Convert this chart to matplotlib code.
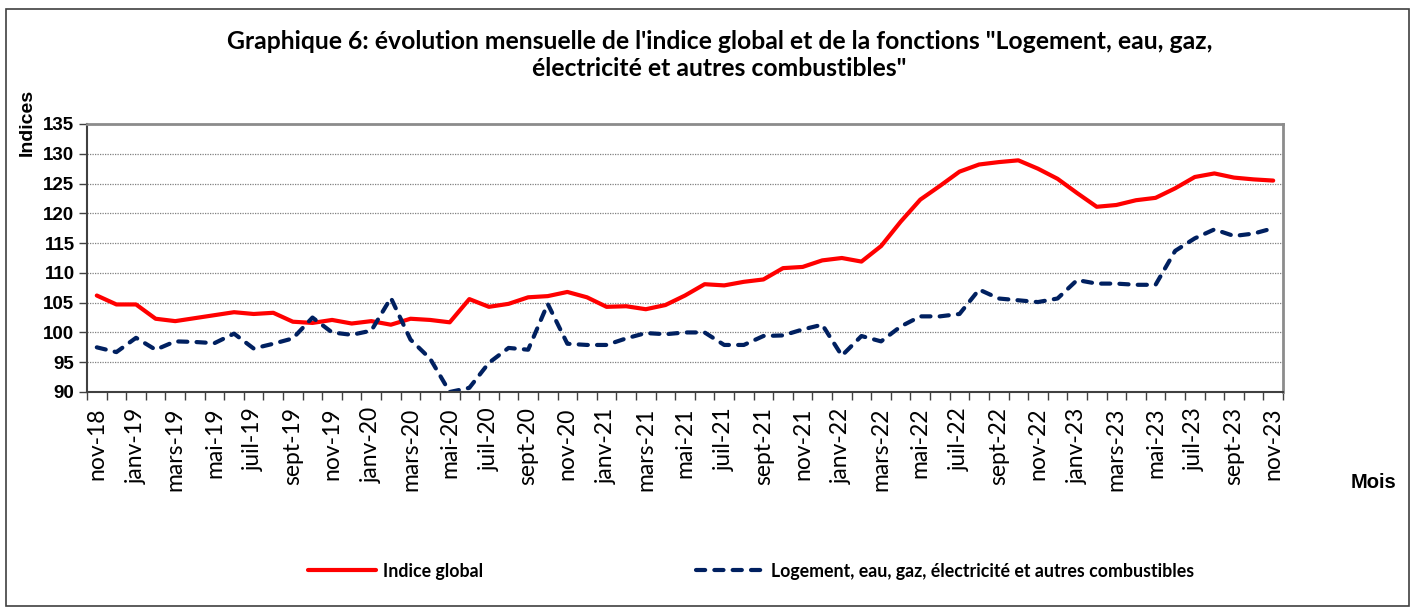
import matplotlib.pyplot as plt
from matplotlib.ticker import FixedLocator, MultipleLocator
import numpy as np

# monthly values nov-18 .. nov-23
indice_global = [
    106.2, 104.7, 104.7, 102.3, 101.9, 102.4, 102.9, 103.4, 103.1, 103.3,
    101.8, 101.6, 102.1, 101.5, 101.9, 101.3, 102.3, 102.1, 101.7, 105.6,
    104.3, 104.8, 105.9, 106.1, 106.8, 105.9, 104.3, 104.4, 103.9, 104.6,
    106.2, 108.1, 107.9, 108.5, 108.9, 110.8, 111.0, 112.1, 112.5, 111.9,
    114.5, 118.6, 122.3, 124.6, 127.0, 128.2, 128.6, 128.9, 127.5, 125.8,
    123.4, 121.1, 121.4, 122.2, 122.6, 124.2, 126.1, 126.7, 126.0, 125.7,
    125.5,
]
logement = [
    97.5, 96.7, 99.1, 97.1, 98.5, 98.4, 98.2, 99.8, 97.3, 98.1,
    99.0, 102.5, 100.0, 99.6, 100.3, 105.8, 98.8, 95.6, 90.0, 90.7,
    94.9, 97.4, 97.1, 104.8, 98.1, 97.9, 97.9, 99.0, 99.9, 99.7,
    100.0, 100.0, 97.9, 97.9, 99.4, 99.5, 100.5, 101.3, 96.1, 99.4,
    98.5, 101.0, 102.7, 102.7, 103.1, 107.2, 105.7, 105.4, 105.1, 105.7,
    108.8, 108.2, 108.2, 108.0, 108.0, 113.7, 115.8, 117.3, 116.2, 116.6,
    117.5,
]
# one label every two months
month_labels = [
    "nov-18", "janv-19", "mars-19", "mai-19", "juil-19", "sept-19",
    "nov-19", "janv-20", "mars-20", "mai-20", "juil-20", "sept-20",
    "nov-20", "janv-21", "mars-21", "mai-21", "juil-21", "sept-21",
    "nov-21", "janv-22", "mars-22", "mai-22", "juil-22", "sept-22",
    "nov-22", "janv-23", "mars-23", "mai-23", "juil-23", "sept-23",
    "nov-23",
]

calibri = ["Lato", "DejaVu Sans"]
arial = ["Liberation Sans", "DejaVu Sans"]

x = np.arange(len(indice_global))

fig = plt.figure(figsize=(14.16, 6.07), dpi=100)
ax = fig.add_axes([87 / 1416, 1 - 392 / 607, (1283 - 87) / 1416, (392 - 124) / 607])

l1, = ax.plot(x, indice_global, color="#FF0000", lw=3.0, solid_capstyle="round",
              solid_joinstyle="round", label="Indice global")
l2, = ax.plot(x, logement, color="#002060", lw=3.0, linestyle=(0, (2.2, 2.2)),
              dash_capstyle="round", dash_joinstyle="round",
              label="Logement, eau, gaz, électricité et autres combustibles")

ax.set_xlim(-0.5, len(x) - 0.5)
ax.set_ylim(90, 135)

# y axis
ax.yaxis.set_major_locator(MultipleLocator(5))
ax.tick_params(axis="y", direction="out", length=6, width=1, color="#404040", pad=3)
for lab in ax.get_yticklabels():
    lab.set_fontfamily(arial)
    lab.set_fontweight("bold")
    lab.set_fontsize(13.5)
ax.grid(axis="y", color="#808080", linestyle=(0, (1, 1)), linewidth=0.9)

# x axis: tick marks between categories, labels on every second month
ax.xaxis.set_major_locator(FixedLocator(np.arange(-0.5, len(x), 1.0)))
ax.xaxis.set_major_formatter(plt.NullFormatter())
ax.xaxis.set_minor_locator(FixedLocator(x[::2]))
ax.set_xticklabels(month_labels, minor=True)
ax.tick_params(axis="x", which="major", direction="out", length=6, width=1, color="#404040")
ax.tick_params(axis="x", which="minor", length=0, pad=11)
for lab in ax.get_xticklabels(minor=True):
    lab.set_rotation(90)
    lab.set_fontfamily(calibri)
    lab.set_fontsize(16.5)

for side in ["left", "bottom"]:
    ax.spines[side].set_color("#404040")
    ax.spines[side].set_linewidth(1.5)
for side in ["top", "right"]:
    ax.spines[side].set_color("#8c8c8c")
    ax.spines[side].set_linewidth(2)

fig.text(0.508, 1 - 55 / 607,
         "Graphique 6: évolution mensuelle de l'indice global et de la fonctions \"Logement, eau, gaz,\n"
         "électricité et autres combustibles\"",
         ha="center", va="center", fontsize=17.8, fontweight="bold", family=calibri,
         linespacing=1.2)
fig.text(27 / 1416, 1 - 122 / 607, "Indices", rotation=90, ha="center", va="center",
         fontsize=14, fontweight="bold", family=arial)
fig.text(1373 / 1416, 1 - 482 / 607, "Mois", ha="center", va="center",
         fontsize=14.5, fontweight="bold", family=arial)

fig.legend(handles=[l1, l2], loc="center", bbox_to_anchor=(751 / 1416, 1 - 571 / 607),
           ncol=2, frameon=False, handlelength=3.8, handletextpad=0.4, columnspacing=12,
           prop={"family": calibri, "weight": "bold", "size": 12.8})

# outer chart border
fig.patches.append(plt.Rectangle((6 / 1416, 0.002), 1403 / 1416, 1 - 9 / 607 - 0.002,
                                 transform=fig.transFigure, fill=False,
                                 edgecolor="#404040", linewidth=1.2))

fig.savefig("out.png", dpi=100)
plt.close(fig)
